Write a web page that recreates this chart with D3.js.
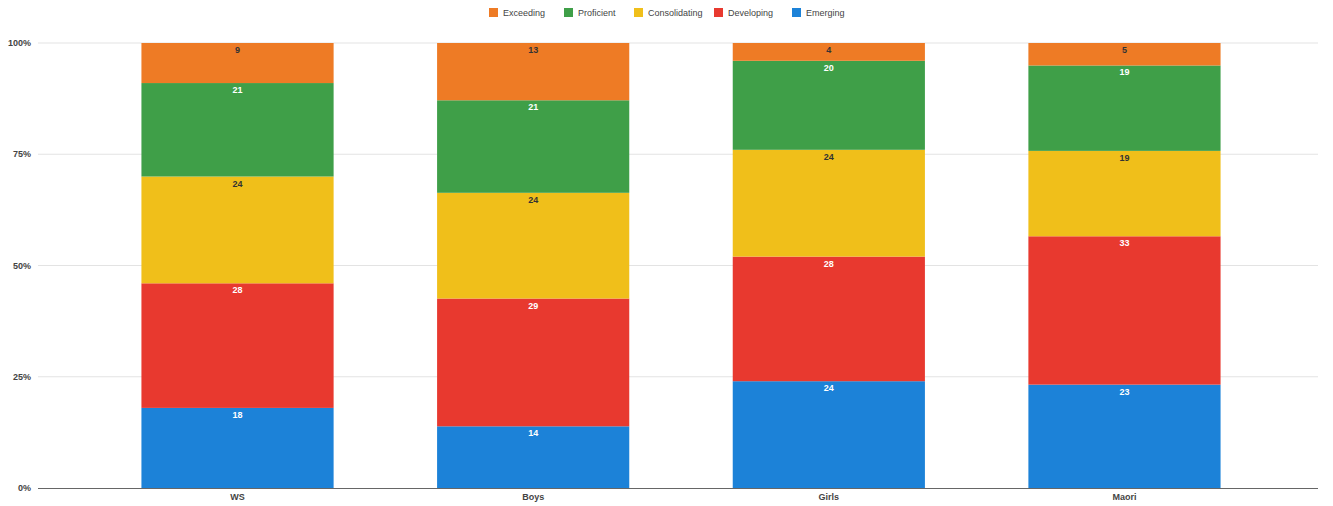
<!DOCTYPE html>
<html><head><meta charset="utf-8">
<script src="https://cdn.jsdelivr.net/npm/d3@7"></script>
<style>body{margin:0;background:#fff;}svg{display:block;font-family:"Liberation Sans",Arial,sans-serif;}</style>
</head><body><svg id="c" width="1333" height="506"></svg>
<script>
const categories = ["WS","Boys","Girls","Maori"];
const seriesNames = ["Emerging","Developing","Consolidating","Proficient","Exceeding"];
const emerging = [18,14,24,23];
const developing = [28,29,28,33];
const consolidating = [24,24,24,19];
const proficient = [21,21,20,19];
const exceeding = [9,13,4,5];
const yTickLabels = ["0%","25%","50%","75%","100%"];
const legendOrder = ["Exceeding","Proficient","Consolidating","Developing","Emerging"];

const colors = {Emerging:"#1c82d8",Developing:"#e8392f",Consolidating:"#f0bf1a",Proficient:"#3f9f48",Exceeding:"#ee7b25"};
const labelColors = {Emerging:"#fff",Developing:"#fff",Consolidating:"#333",Proficient:"#fff",Exceeding:"#333"};
const seriesValues = {Emerging:emerging,Developing:developing,Consolidating:consolidating,Proficient:proficient,Exceeding:exceeding};

const rows = categories.map((c,i)=>{const r={cat:c};seriesNames.forEach(s=>r[s]=seriesValues[s][i]);return r;});
const stack = d3.stack().keys(seriesNames).offset(d3.stackOffsetExpand);
const layers = stack(rows);

const svg = d3.select("#c");
const x = d3.scaleBand().domain(categories).range([35,1327]).paddingInner(0.35).paddingOuter(0.36);
const y = d3.scaleLinear().domain([0,1]).range([488,43]);

// gridlines
svg.append("g").selectAll("line").data([0.25,0.5,0.75,1]).join("line")
  .attr("x1",38).attr("x2",1318).attr("y1",d=>y(d)).attr("y2",d=>y(d))
  .attr("stroke","#e3e3e3").attr("stroke-width",1);

// y labels
svg.append("g").selectAll("text").data([0,0.25,0.5,0.75,1]).join("text")
  .attr("x",31).attr("y",d=>y(d)+3).attr("text-anchor","end")
  .attr("font-size",9).attr("font-weight","bold").attr("fill","#444")
  .text((d,i)=>yTickLabels[i]);

// bars
const g = svg.append("g");
layers.forEach(layer=>{
  const key = layer.key;
  g.append("g").selectAll("rect").data(layer).join("rect")
    .attr("x",d=>x(d.data.cat)).attr("width",x.bandwidth())
    .attr("y",d=>y(d[1])).attr("height",d=>y(d[0])-y(d[1]))
    .attr("fill",colors[key]);
  g.append("g").selectAll("text").data(layer).join("text")
    .attr("x",d=>x(d.data.cat)+x.bandwidth()/2).attr("y",d=>y(d[1])+10)
    .attr("text-anchor","middle").attr("font-size",9).attr("font-weight","bold")
    .attr("fill",labelColors[key]).text(d=>d.data[key]);
});

// baseline
svg.append("line").attr("x1",38).attr("x2",1318).attr("y1",488.5).attr("y2",488.5)
  .attr("stroke","#666").attr("stroke-width",1.2);

// x labels
svg.append("g").selectAll("text").data(categories).join("text")
  .attr("x",d=>x(d)+x.bandwidth()/2).attr("y",500).attr("text-anchor","middle")
  .attr("font-size",9).attr("font-weight","bold").attr("fill","#444").text(d=>d);

// legend
const legX = [489,564,634,714,792];
const leg = svg.append("g");
legendOrder.forEach((s,i)=>{
  leg.append("rect").attr("x",legX[i]).attr("y",8).attr("width",9).attr("height",9).attr("fill",colors[s]);
  leg.append("text").attr("x",legX[i]+14).attr("y",16).attr("font-size",9).attr("fill","#444").text(s);
});
</script></body></html>
